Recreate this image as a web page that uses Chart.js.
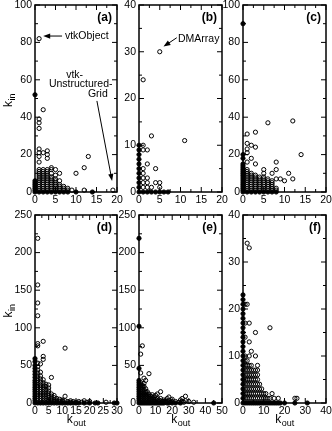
<!DOCTYPE html>
<html>
<head>
<meta charset="utf-8">
<script src="https://cdn.jsdelivr.net/npm/chart.js@4.4.1/dist/chart.umd.min.js"></script>
<style>
    html, body { margin: 0; padding: 0; background: #fff; }
    #wrap { position: relative; width: 332px; height: 431px; }
    #wrap canvas { position: absolute; left: 0; top: 0; }
</style>
</head>
<body>
<div id="wrap"></div>
<script>
// each entry: [k_out, [k_in values seen at that k_out]]
const colsA = [
    [0, [0, 1, 2, 3, 4, 5, 6, 52]],
    [1, [0, 1, 2, 3, 4, 5, 6, 7, 8, 9, 10, 11, 12, 16, 19, 21, 23, 34, 37, 39, 82]],
    [2, [0, 1, 2, 3, 4, 5, 6, 7, 8, 9, 10, 11, 12, 21, 44]],
    [3, [0, 1, 2, 3, 4, 5, 6, 7, 8, 9, 10, 11, 12, 18, 20, 22]],
    [4, [0, 1, 2, 3, 4, 5, 6, 7, 8, 10, 12, 13]],
    [5, [0, 1, 2, 3, 4, 5, 6, 7, 9, 12]],
    [6, [0, 1, 2, 3, 4, 6, 10]],
    [7, [0, 1, 2, 3]],
    [8, [0, 1, 2]],
    [9, [1]],
    [10, [0, 10]],
    [12, [1, 13]],
    [13, [19]],
    [14, [0]],
    [19, [1]]
];
const colsB = [
    [0, [0, 1, 2, 3, 4, 5, 6, 7, 8, 9, 10]],
    [1, [0, 1, 2, 3, 4, 5, 9, 10, 24]],
    [2, [0, 1, 2, 3, 6, 9]],
    [3, [0, 1, 12]],
    [4, [0, 2, 5]],
    [5, [0, 1, 2, 30]],
    [6, [0]],
    [7, [0]],
    [11, [11]]
];
const colsC = [
    [0, [0, 1, 2, 3, 4, 5, 6, 7, 8, 9, 10, 11, 12, 13, 14, 15, 18, 20, 90]],
    [1, [0, 1, 2, 3, 4, 5, 6, 7, 8, 9, 10, 11, 12, 16, 21, 23, 26, 31]],
    [2, [0, 1, 2, 3, 4, 5, 6, 7, 8, 9, 10, 18, 25]],
    [3, [0, 1, 2, 3, 4, 5, 6, 7, 8, 9, 15, 24, 32]],
    [4, [0, 1, 2, 3, 4, 5, 6, 7, 8]],
    [5, [0, 1, 2, 3, 4, 5, 6, 7, 8, 10, 12]],
    [6, [0, 1, 2, 3, 4, 5, 6, 7, 37]],
    [7, [0, 1, 2, 3, 4, 5, 6, 10]],
    [8, [0, 1, 2, 7, 12, 16]],
    [9, [7]],
    [10, [6]],
    [11, [10]],
    [12, [7, 38]],
    [14, [20]]
];
const colsD = [
    [0, [0, 3, 6, 9, 12, 15, 18, 21, 24, 27, 30, 34, 38, 42, 46, 50, 55, 59]],
    [1, [0, 3, 6, 9, 12, 15, 18, 21, 24, 27, 30, 33, 36, 40, 44, 48, 53, 76, 79, 116, 133, 157, 219]],
    [2, [0, 3, 6, 9, 12, 15, 18, 21, 24, 28, 32, 36, 41, 52]],
    [3, [0, 3, 6, 9, 12, 15, 18, 21, 24, 27, 31, 58, 62, 82]],
    [4, [0, 3, 6, 9, 12, 15, 18, 22, 25]],
    [5, [0, 2, 4, 7, 10, 13, 16, 20, 24]],
    [6, [0, 2, 4, 6, 9, 12, 34]],
    [7, [0, 2, 4, 7, 10]],
    [8, [0, 2, 4, 6]],
    [9, [0, 2, 5]],
    [10, [0, 2, 4]],
    [11, [0, 3, 9, 73]],
    [12, [0, 2]],
    [13, [0, 1, 3]],
    [14, [0, 2]],
    [15, [0, 1]],
    [16, [0, 2]],
    [17, [1]],
    [18, [0, 3]],
    [19, [1]],
    [20, [0, 2]],
    [22, [0]],
    [23, [0]],
    [26, [1]],
    [29, [0]],
    [30, [0]]
];
const colsE = [
    [0, [0, 3, 6, 9, 12, 15, 18, 21, 24, 27, 30, 46, 102, 219]],
    [1, [0, 3, 6, 9, 12, 15, 18, 21, 24, 27, 40, 65]],
    [2, [0, 3, 6, 9, 12, 15, 18, 21, 24, 76]],
    [3, [0, 3, 6, 9, 12, 15, 18, 22, 26, 33]],
    [4, [0, 3, 6, 9, 12, 15, 19, 30]],
    [5, [0, 3, 6, 9, 12, 15]],
    [6, [0, 3, 6, 9, 12, 39]],
    [7, [0, 3, 6, 9]],
    [8, [0, 2, 5, 8, 11]],
    [9, [0, 2, 5, 8]],
    [10, [0, 2, 5, 10]],
    [11, [0, 3, 6, 12]],
    [12, [0, 2, 4]],
    [13, [0, 3, 6, 15]],
    [14, [0, 2]],
    [15, [0, 2, 4]],
    [16, [1, 3]],
    [17, [0, 2, 6]],
    [18, [0, 3, 8]],
    [19, [1]],
    [20, [0, 2, 5]],
    [22, [0, 2]],
    [24, [1]],
    [25, [0, 4]],
    [26, [2, 6]],
    [27, [1]],
    [28, [3, 9]],
    [30, [2]],
    [33, [1]],
    [45, [0]]
];
const colsF = [
    [0, [0, 1, 2, 3, 4, 5, 6, 7, 8, 9, 10, 11, 12, 13, 14, 15, 16, 17, 18, 19, 20, 21, 22, 23]],
    [1, [0, 1, 2, 3, 4, 5, 6, 7, 8, 9, 10, 14, 17, 21]],
    [2, [0, 1, 2, 3, 4, 5, 6, 7, 8, 9, 21, 34]],
    [3, [0, 1, 2, 3, 4, 5, 6, 7, 8, 10, 13, 17, 33]],
    [4, [0, 1, 2, 3, 4, 5, 6, 7, 8, 11]],
    [5, [0, 1, 2, 3, 4, 5, 6, 7]],
    [6, [0, 1, 2, 3, 4, 5, 6, 7, 10, 15]],
    [7, [0, 1, 2, 3, 4, 5, 6, 7, 8]],
    [8, [0, 1, 2, 3, 4]],
    [9, [0, 1, 2, 3]],
    [10, [0, 1, 2]],
    [11, [0, 1, 2]],
    [12, [0, 1]],
    [13, [0, 1, 16]],
    [14, [0, 2]],
    [15, [0, 1]],
    [16, [0]],
    [17, [0, 1]],
    [18, [0]],
    [20, [0]],
    [25, [0, 1]],
    [26, [1]],
    [31, [0]]
];

const W = 332, H = 431;
const FONT = "'Liberation Sans', Arial, sans-serif";

function toPoints(cols) {
    const out = [];
    cols.forEach(([k, ins]) => ins.forEach(v => out.push({ x: k, y: v })));
    return out;
}

// draws "k" with a subscript at (x, y), centred
function drawK(ctx, sub, x, y) {
    ctx.font = '12px ' + FONT;
    const wk = ctx.measureText('k').width;
    ctx.font = '9px ' + FONT;
    const ws = ctx.measureText(sub).width;
    const x0 = x - (wk + ws) / 2;
    ctx.textAlign = 'left';
    ctx.textBaseline = 'alphabetic';
    ctx.font = '12px ' + FONT;
    ctx.fillText('k', x0, y + 4);
    ctx.font = '9px ' + FONT;
    ctx.fillText(sub, x0 + wk + 0.5, y + 7);
}

function arrow(ctx, x1, y1, x2, y2) {
    const ang = Math.atan2(y2 - y1, x2 - x1);
    ctx.beginPath();
    ctx.moveTo(x1, y1);
    ctx.lineTo(x2 - 4 * Math.cos(ang), y2 - 4 * Math.sin(ang));
    ctx.stroke();
    ctx.beginPath();
    ctx.moveTo(x2, y2);
    ctx.lineTo(x2 - 7 * Math.cos(ang) + 2.6 * Math.sin(ang), y2 - 7 * Math.sin(ang) - 2.6 * Math.cos(ang));
    ctx.lineTo(x2 - 7 * Math.cos(ang) - 2.6 * Math.sin(ang), y2 - 7 * Math.sin(ang) + 2.6 * Math.cos(ang));
    ctx.closePath();
    ctx.fill();
}

// box frame, inward ticks on all four sides, labels and notes
const frame = {
    id: 'frame',
    afterDatasetsDraw(chart, args, o) {
        const { ctx, chartArea: a } = chart;
        const xs = chart.scales.x, ys = chart.scales.y;
        ctx.save();
        ctx.strokeStyle = '#000';
        ctx.fillStyle = '#000';
        ctx.lineWidth = 1;
        ctx.beginPath();
        for (let i = 0; i * o.xMinor <= xs.max + 1e-6; i++) {
            const px = xs.getPixelForValue(i * o.xMinor);
            const len = i % 2 === 0 ? 5 : 3;
            ctx.moveTo(px, a.bottom); ctx.lineTo(px, a.bottom - len);
            ctx.moveTo(px, a.top); ctx.lineTo(px, a.top + len);
        }
        for (let i = 0; i * o.yMinor <= ys.max + 1e-6; i++) {
            const py = ys.getPixelForValue(i * o.yMinor);
            const len = i % 2 === 0 ? 5 : 3;
            ctx.moveTo(a.left, py); ctx.lineTo(a.left + len, py);
            ctx.moveTo(a.right, py); ctx.lineTo(a.right - len, py);
        }
        ctx.stroke();
        ctx.lineWidth = 1.5;
        ctx.strokeRect(a.left, a.top, a.right - a.left, a.bottom - a.top);

        // panel letter
        ctx.font = 'bold 12px ' + FONT;
        ctx.textAlign = 'right';
        ctx.textBaseline = 'middle';
        ctx.fillText(o.letter, a.right - 5, a.top + 13);

        // notes in data coordinates
        ctx.font = '10.5px ' + FONT;
        ctx.textAlign = 'left';
        (o.notes || []).forEach(n => {
            ctx.fillText(n.text, xs.getPixelForValue(n.x), ys.getPixelForValue(n.y));
        });
        ctx.lineWidth = 1;
        (o.arrows || []).forEach(r => {
            arrow(ctx, xs.getPixelForValue(r[0]), ys.getPixelForValue(r[1]),
                xs.getPixelForValue(r[2]), ys.getPixelForValue(r[3]));
        });

        // axis titles
        if (o.xTitle) drawK(ctx, 'out', (a.left + a.right) / 2, a.bottom + 16);
        if (o.yTitle) {
            ctx.save();
            ctx.translate(8, (a.top + a.bottom) / 2 + 2);
            ctx.rotate(-Math.PI / 2);
            drawK(ctx, 'in', 0, 0);
            ctx.restore();
        }
        ctx.restore();
    }
};

const panels = [
    { cols: colsA, letter: '(a)', xMax: 20, xStep: 5, yMax: 100, yStep: 20, box: [35, 5, 117, 192], yTitle: true,
      notes: [{ text: 'vtkObject', x: 7.3, y: 83.4 }, { text: 'vtk-', x: 7.6, y: 62.6 },
              { text: 'Unstructured-', x: 3.4, y: 57.8 }, { text: 'Grid', x: 12.9, y: 52.4 }],
      arrows: [[6.6, 83.4, 2.0, 83.4], [15.1, 48.7, 18.8, 5.9]] },
    { cols: colsB, letter: '(b)', xMax: 20, xStep: 5, yMax: 40, yStep: 10, box: [139, 5, 222, 192],
      notes: [{ text: 'DMArray', x: 9.4, y: 32.7 }],
      arrows: [[9.1, 33.0, 5.9, 31.1]] },
    { cols: colsC, letter: '(c)', xMax: 20, xStep: 5, yMax: 100, yStep: 20, box: [243, 5, 326, 192] },
    { cols: colsD, letter: '(d)', xMax: 30, xStep: 5, yMax: 250, yStep: 50, box: [35, 215, 117, 403], yTitle: true, xTitle: true },
    { cols: colsE, letter: '(e)', xMax: 50, xStep: 10, yMax: 250, yStep: 50, box: [139, 215, 222, 403], xTitle: true },
    { cols: colsF, letter: '(f)', xMax: 40, xStep: 10, yMax: 40, yStep: 10, box: [243, 215, 326, 403], xTitle: true }
];

const wrap = document.getElementById('wrap');
const tickFont = { family: FONT, size: 10.5 };

panels.forEach(p => {
    const cv = document.createElement('canvas');
    cv.width = W; cv.height = H;
    cv.style.width = W + 'px'; cv.style.height = H + 'px';
    wrap.appendChild(cv);

    const pts = toPoints(p.cols);
    const filled = pts.filter(d => d.x === 0 || d.y === 0);
    const open = pts.filter(d => d.x !== 0 && d.y !== 0);
    const [L, T, R, B] = p.box;

    new Chart(cv.getContext('2d'), {
        type: 'scatter',
        data: {
            datasets: [
                { data: open, pointRadius: 2.1, borderWidth: 1, borderColor: '#000', backgroundColor: 'rgba(0,0,0,0)', clip: false },
                { data: filled, pointRadius: 2.1, borderWidth: 1, borderColor: '#000', backgroundColor: '#000', clip: false }
            ]
        },
        options: {
            responsive: false,
            animation: false,
            devicePixelRatio: 1,
            events: [],
            layout: { padding: { left: L - 35, top: T, right: W - R, bottom: H - B - 18 } },
            plugins: {
                legend: { display: false },
                tooltip: { enabled: false },
                frame: { letter: p.letter, xMinor: p.xStep / 2, yMinor: p.yStep / 2,
                         notes: p.notes, arrows: p.arrows, xTitle: p.xTitle, yTitle: p.yTitle }
            },
            scales: {
                x: {
                    type: 'linear', min: 0, max: p.xMax,
                    ticks: { stepSize: p.xStep, autoSkip: false, maxRotation: 0, padding: 2, color: '#000', font: tickFont },
                    grid: { display: false, drawTicks: false },
                    border: { display: false },
                    afterFit: s => { s.height = 18; s.paddingLeft = 0; s.paddingRight = 0; }
                },
                y: {
                    type: 'linear', min: 0, max: p.yMax,
                    ticks: { stepSize: p.yStep, autoSkip: false, padding: 3, color: '#000', font: tickFont },
                    grid: { display: false, drawTicks: false },
                    border: { display: false },
                    afterFit: s => { s.width = 35; s.paddingTop = 0; s.paddingBottom = 0; }
                }
            }
        },
        plugins: [frame]
    });
});
</script>
</body>
</html>
